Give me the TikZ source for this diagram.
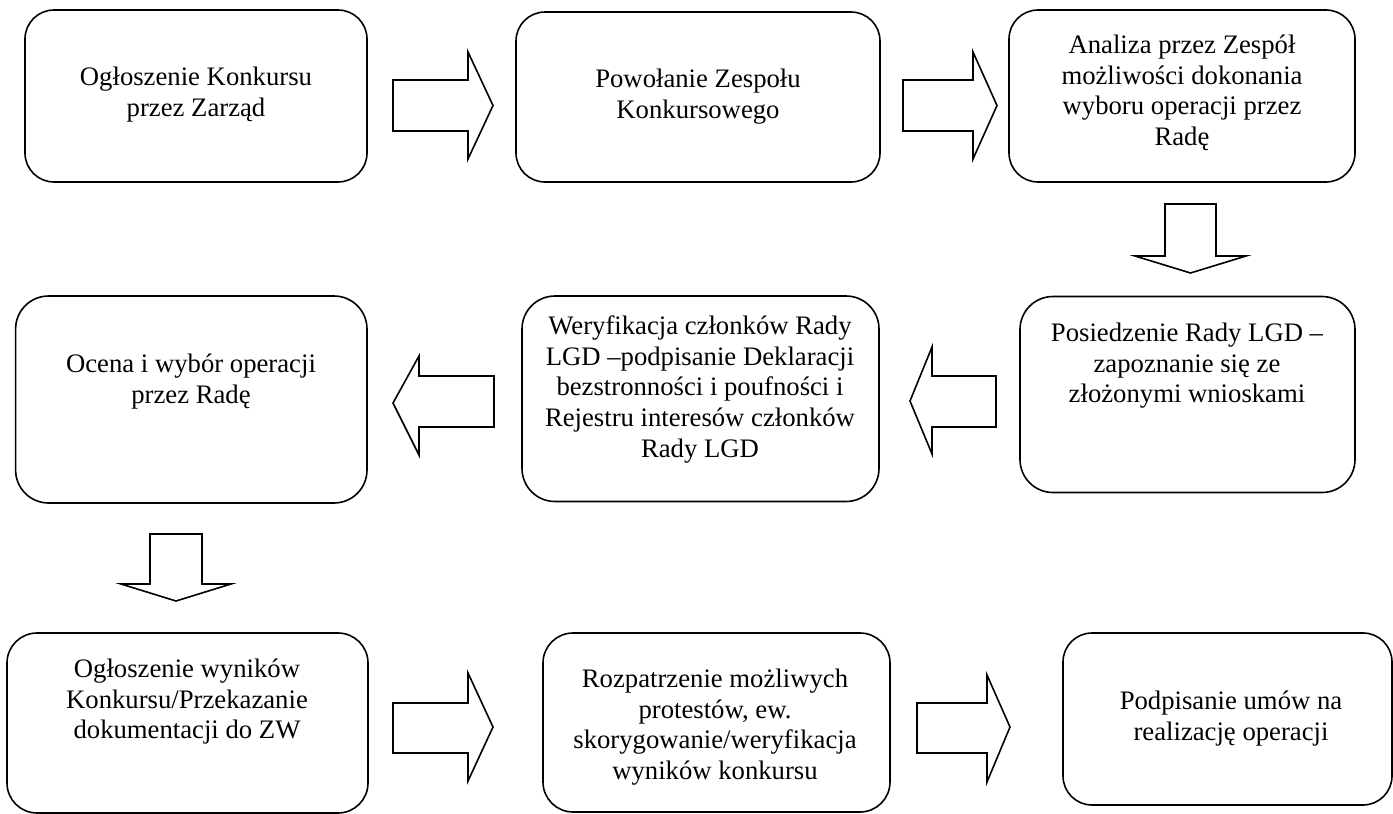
\documentclass[tikz,border=0pt]{standalone}
\usepackage{fontspec}
\setmainfont{Liberation Serif}
\newcommand\firststrut{\rule{0pt}{21pt}}
\tikzset{
  box/.style={draw, line width=1.6pt, rounded corners=#1, inner sep=0pt, outer sep=0pt},
  box/.default=30pt,
  txt/.style={anchor=north, align=center, inner sep=0pt, font=\fontsize{26.7}{30.8}\selectfont},
  barrow/.style={draw, line width=1.6pt, line join=miter, fill=white}
}
\begin{document}
\begin{tikzpicture}[x=1pt, y=-1pt]
\useasboundingbox (0,0) rectangle (1393,814);
% boxes
\node[box=29pt, minimum width=342pt, minimum height=172pt] (b1) at (196,96) {};
\node[box=29pt, minimum width=364pt, minimum height=170pt] (b2) at (698,97) {};
\node[box=29pt, minimum width=346pt, minimum height=172pt] (b3) at (1182,96) {};
\node[box=33pt, minimum width=351.4pt, minimum height=207pt] (b4) at (191.3,399.5) {};
\node[box=33pt, minimum width=357pt, minimum height=205.5pt] (b5) at (700.5,398.75) {};
\node[box=33pt, minimum width=335pt, minimum height=196pt] (b6) at (1187.5,394.5) {};
\node[box=30pt, minimum width=361pt, minimum height=180pt] (b7) at (187.5,723) {};
\node[box=30pt, minimum width=347pt, minimum height=179pt] (b8) at (716.5,722.5) {};
\node[box=29pt, minimum width=329pt, minimum height=172pt] (b9) at (1227.5,719) {};
% texts
\node[txt] (t1) at (196,64) {\firststrut Ogłoszenie Konkursu\\przez Zarząd};
\node[txt] (t2) at (698,66) {\firststrut Powołanie Zespołu\\Konkursowego};
\node[txt] (t3) at (1182,32) {\firststrut Analiza przez Zespół\\możliwości dokonania\\wyboru operacji przez\\Radę};
\node[txt] (t4) at (191,351) {\firststrut Ocena i wybór operacji\\przez Radę};
\node[txt] (t5) at (700,313) {\firststrut Weryfikacja członków Rady\\LGD –podpisanie Deklaracji\\bezstronności i poufności i\\Rejestru interesów członków\\Rady LGD};
\node[txt] (t6) at (1187,320) {\firststrut Posiedzenie Rady LGD –\\zapoznanie się ze\\złożonymi wnioskami};
\node[txt] (t7) at (187,656) {\firststrut Ogłoszenie wyników\\Konkursu/Przekazanie\\dokumentacji do ZW};
\node[txt] (t8) at (715,666) {\firststrut Rozpatrzenie możliwych\\protestów, ew.\\skorygowanie/weryfikacja\\wyników konkursu};
\node[txt] (t9) at (1231,688) {\firststrut Podpisanie umów na\\realizację operacji};
% block arrows
\draw[barrow] (393,80) -- (468,80) -- (468,52) -- (493,105.5) -- (468,159) -- (468,131) -- (393,131) -- cycle;
\draw[barrow] (903,80) -- (973,80) -- (973,52) -- (997,105.5) -- (973,159) -- (973,131) -- (903,131) -- cycle;
\draw[barrow] (1165,204) -- (1165,256) -- (1135,256) -- (1190.5,273) -- (1246,256) -- (1216,256) -- (1216,204) -- cycle;
\draw[barrow] (494,376) -- (419,376) -- (419,356) -- (393,403) -- (419,455) -- (419,427) -- (494,427) -- cycle;
\draw[barrow] (996,376) -- (932,376) -- (932,347) -- (910,401) -- (932,454) -- (932,427) -- (996,427) -- cycle;
\draw[barrow] (150,534) -- (150,584) -- (121,584) -- (176,601) -- (231,584) -- (202,584) -- (202,534) -- cycle;
\draw[barrow] (393,703) -- (468,703) -- (468,673) -- (493,727) -- (468,781) -- (468,753) -- (393,753) -- cycle;
\draw[barrow] (917,703) -- (987,703) -- (987,675) -- (1010,727) -- (987,782) -- (987,753) -- (917,753) -- cycle;
\end{tikzpicture}
\end{document}
